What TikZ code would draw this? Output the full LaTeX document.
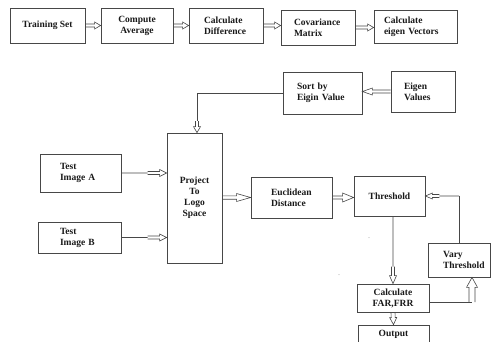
\documentclass[tikz,border=0pt]{standalone}
\usepackage{fontspec}
\setmainfont{Liberation Serif}
\usetikzlibrary{calc}
\hyphenpenalty=10000 \hfuzz=100pt \hbadness=10000
\def\blkSW{1.5}\def\blkHW{3.5}\def\blkHL{6}\def\blkDL{1000}
\tikzset{
  bx/.style={draw=black!72, line width=0.8pt, inner xsep=1pt, inner ysep=1pt, text=black!90,
    font=\fontsize{9.5}{11}\selectfont\bfseries},
  ln/.style={draw=black!72, line width=0.7pt},
  arr/.style={draw=black!72, line width=0.6pt, line join=miter},
  shaftw/.code={\def\blkSW{#1}},
  headw/.code={\def\blkHW{#1}},
  headl/.code={\def\blkHL{#1}},
  dbl/.code={\def\blkDL{#1}},
  blk/.style={to path={
    let \p1=(\tikztostart), \p2=(\tikztotarget),
        \n1={veclen(\x2-\x1,\y2-\y1)},
        \n2={(\x2-\x1)/\n1}, \n3={(\y2-\y1)/\n1},
        \n4={min(\blkDL,\n1)},
        \p5=({\x2-\n2*\n4},{\y2-\n3*\n4}),
        \p6=({\x2-\n2*\blkHL},{\y2-\n3*\blkHL}) in
    (\p1) -- (\p5)
    ({\x5-\n3*\blkSW},{\y5+\n2*\blkSW}) -- ({\x6-\n3*\blkSW},{\y6+\n2*\blkSW})
    -- ({\x6-\n3*\blkHW},{\y6+\n2*\blkHW}) -- (\p2)
    -- ({\x6+\n3*\blkHW},{\y6-\n2*\blkHW}) -- ({\x6+\n3*\blkSW},{\y6-\n2*\blkSW})
    -- ({\x5+\n3*\blkSW},{\y5-\n2*\blkSW})
  }},
  dotn/.style={inner sep=0pt, font=\fontsize{6}{6}\selectfont, text=black!70}
}
\begin{document}
\begin{tikzpicture}[x=1pt, y=-1pt]
\useasboundingbox (0,0) rectangle (492,341);
\fill[white] (0,0) rectangle (492,341);
\clip (0,0) rectangle (492,341);

% top row
\node[bx, align=center, minimum width=75pt, minimum height=35pt] (train) at (47.5,25.5) {Training Set};
\node[bx, align=center, minimum width=72pt, minimum height=35pt] (comp) at (137,25.5) {Compute\\Average};
\node[bx, align=left, text width=44pt, minimum width=74pt, minimum height=35pt] (diff) at (226,25.5) {Calculate\\Difference};
\node[bx, align=left, text width=48pt, minimum width=74pt, minimum height=35pt] (cov) at (318,27.5) {Covariance\\Matrix};
\node[bx, align=left, text width=63pt, minimum width=83pt, minimum height=33pt] (eig) at (415.5,26.5) {Calculate\\eigen Vectors};

% second group
\node[bx, align=left, text width=51pt, minimum width=79pt, minimum height=42pt] (sort) at (322.5,93) {Sort by\\Eigin Value};
\node[bx, align=left, text width=38pt, minimum width=64pt, minimum height=41pt] (eigv) at (423,91.5) {Eigen\\Values};
\node[bx, align=center, minimum width=55pt, minimum height=130pt] (proj) at (194.5,198) {Project\\To\\Logo\\Space};
\node[bx, align=left, text width=41pt, minimum width=81pt, minimum height=38pt] (testA) at (80.5,173) {Test\\Image A};
\node[bx, align=left, text width=39pt, minimum width=83pt, minimum height=31pt] (testB) at (79.5,237.5) {Test\\Image B};
\node[bx, align=left, text width=41pt, minimum width=81pt, minimum height=41pt] (eucl) at (291.5,197.5) {Euclidean\\Distance};
\node[bx, align=center, minimum width=71pt, minimum height=40pt] (thr) at (389.5,196) {Threshold};
\node[bx, align=left, text width=32pt, minimum width=62pt, minimum height=34pt] (vary) at (459,260) {Vary\\\mbox{Threshold}};
\node[bx, align=center, minimum width=72pt, minimum height=28pt] (calc) at (393,298) {Calculate\\FAR,FRR};
\node[bx, align=center, minimum width=71pt, minimum height=18pt] (out) at (393.5,334) {Output};

\node[dotn] (d1) at (369,238) {.};
\node[dotn] (d2) at (339,275) {.};

\coordinate (c1) at (197,121);
\coordinate (c3) at (472,302);

% top row arrows
\draw[arr] (train.east) to[blk] (train.east -| comp.west);
\draw[arr] (comp.east) to[blk] (comp.east -| diff.west);
\draw[arr] (diff.east) to[blk] (diff.east -| cov.west);
\draw[arr] (cov.east) to[blk] (cov.east -| eig.west);

% eigen values -> sort
\draw[arr] (eigv.west) to[blk, headl=10] (eigv.west -| sort.east);
% sort -> project
\draw[ln] (sort.west) -| (c1);
\draw[arr] (c1) to[blk, headl=6] (c1 |- proj.north);
% tests -> project
\draw[arr] (testA.east) to[blk, dbl=19, headl=7] (testA.east -| proj.west);
\draw[arr] (testB.east) to[blk, dbl=19, headl=7] (testB.east -| proj.west);
% project -> euclidean
\draw[arr] (eucl.west -| proj.east) to[blk, headl=14, headw=4, shaftw=1.7] (eucl.west);
% euclidean -> threshold
\draw[arr] (eucl.east) to[blk, headl=11, headw=4.5] (eucl.east -| thr.west);
% vary -> threshold
\draw[ln] (vary.north) -- (vary.north |- thr.east);
\draw[arr] (vary.north |- thr.east) to[blk, dbl=14, headl=7, headw=3] (thr.east);
% threshold -> calculate
\draw[arr] (calc.north |- thr.south) to[blk, dbl=17, headl=8] (calc.north);
% calculate -> vary
\draw[ln] (calc.east |- c3) -- (c3);
\draw[arr] (c3) to[blk, dbl=25, headl=10, headw=5.5, shaftw=3] (c3 |- vary.south);
% calculate -> output
\draw[arr] (calc.south) to[blk, headl=7, headw=3.5, shaftw=2] (out.north);
\end{tikzpicture}
\end{document}
